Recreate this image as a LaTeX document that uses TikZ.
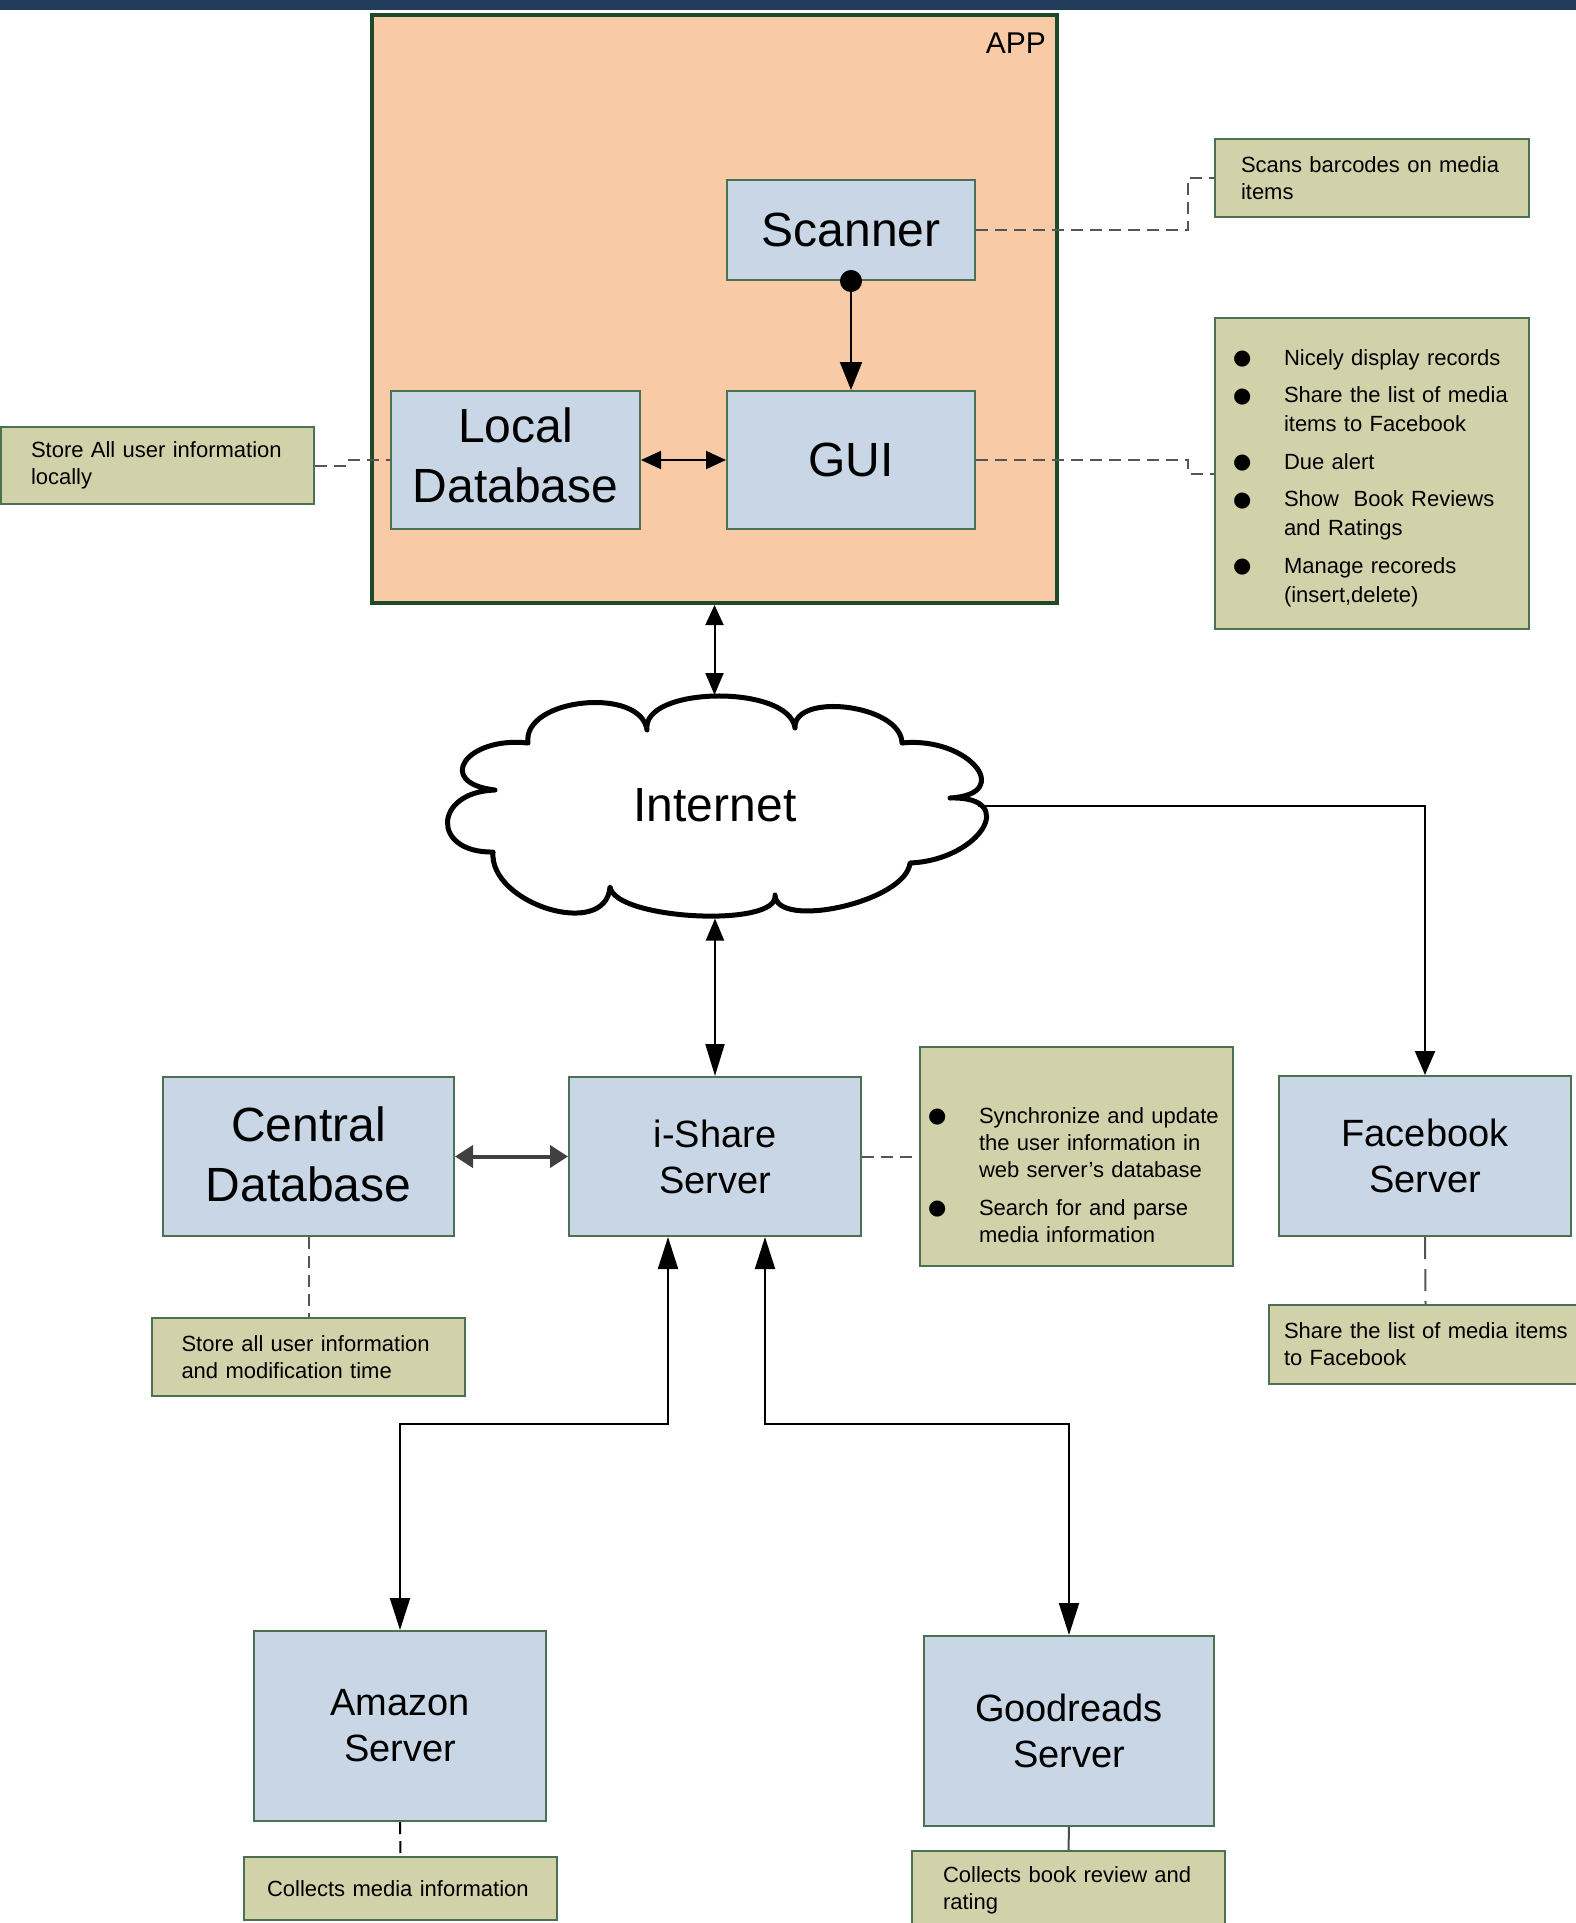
\documentclass[tikz,border=0pt]{standalone}
\usepackage{fontspec}
\setmainfont{Liberation Sans}
\newfontfamily\dejavu{DejaVu Sans}
\usetikzlibrary{arrows.meta,calc}
\definecolor{peach}{HTML}{F8CBA6}
\definecolor{boxblue}{HTML}{C9D6E6}
\definecolor{khaki}{HTML}{D1D2AA}
\definecolor{bordergreen}{HTML}{4A7252}
\definecolor{appgreen}{HTML}{1F4A29}
\definecolor{topbar}{HTML}{223C5C}
\definecolor{dashgray}{HTML}{555555}
\newcommand{\bul}{\makebox[43pt][l]{\hspace*{-8pt}\raisebox{0.5pt}{\dejavu\fontsize{21}{21}\selectfont ●}}}
\newcommand{\ind}{\hspace*{43pt}}
\begin{document}
\begin{tikzpicture}[x=1pt,y=-1pt,
  box/.style={draw=bordergreen,line width=2pt,fill=boxblue,inner sep=0pt,align=center},
  bigtxt/.style={font=\fontsize{48}{60}\selectfont},
  midtxt/.style={font=\fontsize{38}{46}\selectfont},
  note/.style={draw=bordergreen,line width=2pt,fill=khaki,inner ysep=0pt,align=left,font=\fontsize{22}{27}\selectfont},
  conn/.style={line width=2pt,draw=black},
  dashline/.style={draw=dashgray,line width=2pt,dash pattern=on 12pt off 7pt},
  tipS/.tip={Triangle[length=20pt,width=18pt]},
  tipL/.tip={Triangle[length=32pt,width=20pt]},
]
\useasboundingbox (0,0) rectangle (1576,1923);
\fill[white] (0,0) rectangle (1576,1923);
\fill[topbar] (0,0) rectangle (1576,10);

% APP container
\node[draw=appgreen,line width=4pt,fill=peach,minimum width=685pt,minimum height=588pt,inner sep=0pt] (app) at (714.5,309) {};
\node[anchor=east,font=\fontsize{30}{36}\selectfont,inner sep=0pt] (applbl) at (1046,43) {APP};

% main boxes
\node[box,bigtxt,minimum width=248pt,minimum height=100pt] (scanner) at (851,230) {Scanner};
\node[box,bigtxt,minimum width=248pt,minimum height=138pt] (gui) at (851,460) {GUI};
\node[box,bigtxt,minimum width=249pt,minimum height=138pt] (localdb) at (515.5,460) {Local\\Database\rule[-10pt]{0pt}{10pt}};
\node[box,bigtxt,minimum width=291pt,minimum height=159pt] (central) at (308.5,1156.5) {Central\\Database\rule[-5pt]{0pt}{5pt}};
\node[box,midtxt,minimum width=292pt,minimum height=159pt] (ishare) at (715,1156.5) {i-Share\\Server};
\node[box,midtxt,minimum width=292pt,minimum height=160pt] (facebook) at (1425,1156) {Facebook\\Server};
\node[box,midtxt,minimum width=292pt,minimum height=190pt] (amazon) at (400,1726) {Amazon\\Server};
\node[box,midtxt,minimum width=290pt,minimum height=190pt] (goodreads) at (1069,1731) {Goodreads\\Server};

% cloud
\draw[line width=5pt,fill=white,line join=round]
  (528,743) .. controls (522,698) and (641,686) .. (647,730)
  .. controls (641,686) and (789,684) .. (795,728)
  .. controls (793,692) and (901,704) .. (902,743)
  .. controls (968,736) and (1016,794) .. (950,798)
  .. controls (1020,796) and (980,860) .. (910,863)
  .. controls (906,902) and (776,930) .. (775,895)
  .. controls (780,928) and (615,920) .. (610,887)
  .. controls (606,940) and (489,904) .. (493,852)
  .. controls (431,853) and (433,792) .. (495,790)
  .. controls (434,783) and (466,736) .. (528,743) -- cycle;
\node[font=\fontsize{48}{58}\selectfont] (internet) at (715,805) {Internet};
\coordinate (cloudtop) at (714.5,695);
\coordinate (cloudbot) at (715,918.5);
\coordinate (cloudright) at (978,806);

% notes
\node[note,text width=262pt,inner xsep=26pt,minimum height=78pt] (nScan) at (1372,178) {Scans barcodes on media\\items};
\node[note,text width=253pt,inner xsep=30pt,minimum height=77pt] (nLocal) at (157.5,465.5) {Store All user information\\locally};
\node[note,font=\fontsize{22}{29}\selectfont,text width=262pt,inner xsep=26pt,minimum height=311pt] (nGUI) at (1372,473.5) {%
\rule{0pt}{25pt}\bul\mbox{Nicely display records}\\[8.5pt]
\bul\mbox{Share the list of media}\\
\ind\mbox{items to Facebook}\\[8.5pt]
\bul\mbox{Due alert}\\[8.5pt]
\bul\mbox{Show\ \ Book Reviews}\\
\ind\mbox{and Ratings}\\[8.5pt]
\bul\mbox{Manage recoreds}\\
\ind\mbox{(insert,delete)}};
\node[note,font=\fontsize{22}{27}\selectfont,text width=281pt,inner xsep=16pt,minimum height=219pt] (nIShare) at (1076.5,1156.5) {%
\rule{0pt}{53pt}\bul\mbox{Synchronize and update}\\
\ind\mbox{the user information in}\\
\ind\mbox{web server’s database}\\[11pt]
\bul\mbox{Search for and parse}\\
\ind\mbox{media information}};
\node[note,text width=254pt,inner xsep=29.5pt,minimum height=78pt] (nCentral) at (308.5,1357) {Store all user information\\and modification time};
\node[note,text width=283pt,inner xsep=15pt,minimum height=79pt] (nFacebook) at (1425.5,1344.5) {\mbox{Share the list of media items}\\to Facebook};
\node[note,text width=267pt,inner xsep=23pt,minimum height=63pt] (nAmazon) at (400.5,1888.5) {Collects media information};
\node[note,text width=251pt,inner xsep=31pt,minimum height=79pt] (nGoodreads) at (1068.5,1890.5) {Collects book review and\\rating};

% solid connectors
\draw[conn,{Circle[length=22pt]}-{Triangle[length=28pt,width=22pt]}] ([yshift=11pt]scanner.south) -- (gui.north);
\draw[conn,tipS-tipS] (localdb.east) -- (gui.west);
\draw[conn,{Triangle[length=20pt,width=18pt]}-{Triangle[length=22pt,width=18pt]}] (app.south) -- (cloudtop);
\draw[conn,{Triangle[length=22pt,width=18pt]}-{Triangle[length=32pt,width=19pt]}] (cloudbot) -- (ishare.north);
\draw[conn,-{Triangle[length=24pt,width=20pt]}] (cloudright) -| (facebook.north);
\draw[line width=4pt,draw=black!75,{Triangle[length=18pt,width=22pt]}-{Triangle[length=18pt,width=22pt]}] (central.east) -- (ishare.west);
\draw[conn,tipL-tipL] ([xshift=-47pt]ishare.south) -- ++(0,187) -| (amazon.north);
\draw[conn,tipL-tipL] ([xshift=50pt]ishare.south) -- ++(0,187) -| (goodreads.north);

% dashed connectors
\draw[dashline] (scanner.east) -- ++(212,0) |- (nScan.west);
\draw[dashline] (gui.east) -- ++(212,0) |- (nGUI.west);
\draw[dashline] (nLocal.east) -- ++(32,0) |- (localdb.west);
\draw[dashline] (ishare.east) -- (nIShare.west);
\draw[dashline] (central.south) -- (nCentral.north);
\draw[dashline,dash pattern=on 22pt off 10pt] (facebook.south) -- (nFacebook.north);
\draw[dashline,draw=black] (amazon.south) -- (nAmazon.north);
\draw[line width=2pt,draw=black!70] (goodreads.south) -- (nGoodreads.north);
\end{tikzpicture}
\end{document}
